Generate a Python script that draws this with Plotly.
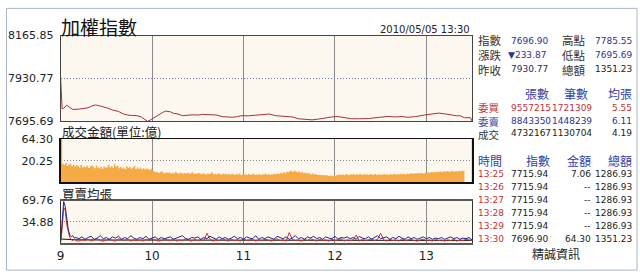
import plotly.graph_objects as go

# ---------------- data ----------------
TITLE = "加權指數"
STAMP = "2010/05/05 13:30"
VOL_TITLE = "成交金額(單位:億)"
AVG_TITLE = "買賣均張"
SOURCE = "精誠資訊"

HOUR_TICKS = [0, 60, 120, 180, 240]
HOUR_LABELS = ["9", "10", "11", "12", "13"]

IDX_RANGE = [7695.69, 8165.85]
IDX_TICKS = [7695.69, 7930.77, 8165.85]
IDX_TICK_LABELS = ["7695.69", "7930.77", "8165.85"]

IDX_MIN = [0, 1, 2, 4, 6, 8, 12, 15, 18, 21, 23, 26, 28, 31, 34, 38, 41, 44, 47, 50,
           53, 56, 57, 59, 61, 64, 67, 69, 72, 74, 77, 80, 83, 87, 90, 93, 98, 102, 106, 110,
           113, 116, 119, 123, 126, 130, 134, 137, 141, 147, 152, 156, 160, 165, 169, 173, 178, 182, 186, 191,
           196, 202, 207, 211, 215, 219, 224, 228, 233, 239, 243, 248, 252, 256, 260, 262, 264, 265, 269, 270]
IDX_VAL = [7930.77, 7764, 7768, 7784, 7772, 7761, 7763, 7768, 7770, 7782, 7785.55, 7780, 7776, 7768, 7758, 7750, 7737, 7730, 7728, 7727,
           7720, 7702, 7695.69, 7704, 7714, 7732, 7745, 7752, 7748, 7740, 7736, 7727, 7730, 7732, 7730, 7734, 7732, 7731, 7722, 7720,
           7718, 7722, 7727, 7726, 7729, 7732, 7734, 7736, 7727, 7723, 7720, 7710, 7706, 7704, 7708, 7715, 7720, 7722, 7716, 7710,
           7710, 7711, 7716, 7720, 7723, 7720, 7722, 7718, 7722, 7731, 7737, 7741, 7737, 7731, 7726, 7727, 7720, 7715.94, 7715.94, 7696.90]

VOL_RANGE = [0, 40.5]
VOL_TICKS = [20.25, 40.5]
VOL_TICK_LABELS = ["20.25", "64.30"]
# per-minute traded amount, minute 1 (9:01) .. minute 265 (13:25)
VOL_AMT = [45.0,
           17.5, 16.2, 18.0, 15.4, 16.8, 17.2, 15.0, 16.5, 14.8, 16.0,
           15.2, 14.0, 16.4, 13.8, 15.0, 14.2, 15.6, 13.5, 14.8, 16.0,
           14.5, 13.2, 15.8, 14.0, 13.0, 14.6, 12.8, 15.0, 13.6, 14.2,
           16.5, 14.0, 15.2, 13.5, 17.0, 14.8, 15.6, 13.2, 14.4, 13.0,
           14.0, 12.6, 15.0, 13.4, 14.2, 12.8, 13.6, 15.2, 12.4, 13.8,
           12.5, 14.0, 12.0, 13.2, 11.8, 13.0, 12.2, 11.5, 12.8, 11.0,
           10.2, 9.5, 9.8, 8.8, 9.6, 10.4, 9.0, 8.6, 9.4, 8.8,
           9.2, 8.4, 9.0, 8.2, 9.6, 8.8, 8.0, 9.2, 8.6, 8.4,
           8.8, 8.2, 9.0, 8.0, 8.6, 9.4, 7.8, 8.4, 8.0, 8.8,
           8.2, 7.6, 8.6, 8.0, 7.4, 8.4, 7.8, 8.2, 9.2, 7.6,
           8.0, 7.4, 8.6, 7.8, 7.2, 8.2, 7.6, 8.0, 7.4, 7.8,
           7.2, 8.0, 7.6, 7.0, 7.8, 7.4, 8.2, 7.0, 7.6, 7.2,
           7.6, 7.0, 7.8, 7.2, 7.4, 8.0, 6.8, 7.6, 7.2, 7.8,
           7.0, 7.6, 7.4, 8.2, 7.2, 7.8, 7.0, 7.6, 7.4, 8.0,
           7.6, 8.4, 7.8, 9.0, 8.2, 9.6, 8.6, 10.0, 9.4, 10.4,
           10.8, 9.6, 11.2, 10.0, 9.4, 10.2, 9.0, 9.8, 8.6, 9.2,
           8.4, 8.8, 8.0, 7.6, 8.2, 7.4, 7.8, 7.0, 6.8, 7.2,
           6.6, 7.0, 6.4, 6.8, 6.2, 6.0, 6.6, 5.8, 6.4, 6.0,
           7.2, 6.8, 7.6, 7.0, 7.4, 6.6, 7.8, 7.2, 7.0, 7.6,
           7.4, 7.8, 7.0, 7.6, 7.2, 8.0, 7.4, 7.0, 7.8, 7.2,
           7.6, 7.0, 7.8, 7.4, 7.2, 7.8, 7.0, 7.6, 7.4, 7.2,
           7.4, 7.8, 7.2, 7.6, 7.0, 7.8, 7.4, 7.6, 8.0, 7.2,
           7.8, 7.4, 8.2, 7.6, 8.0, 7.4, 8.4, 7.8, 8.2, 8.6,
           8.0, 8.6, 8.2, 8.8, 8.4, 9.0, 8.6, 8.2, 9.2, 8.8,
           9.4, 9.0, 9.6, 9.2, 9.8, 9.4, 10.0, 9.6, 10.2, 9.8,
           10.4, 9.8, 10.6, 10.2, 10.0, 10.8, 10.4, 10.0, 10.6, 10.2,
           10.8, 10.4, 11.0, 10.6]
VOL_MIN = list(range(1, 1 + len(VOL_AMT)))
CLOSE_MIN = [270]
CLOSE_AMT = [64.30]

AVG_RANGE = [0, 69.76]
AVG_TICKS = [34.88, 69.76]
AVG_TICK_LABELS = ["34.88", "69.76"]
AVG_MIN = list(range(0, 11)) + list(range(12, 271, 2))
SELL_AVG = [3, 30, 68, 60, 38, 22, 13, 10, 12, 8, 9,
            7, 10, 6, 9, 11, 6, 8, 12, 7, 9,
            6, 10, 8, 11, 6, 9, 7, 12, 8, 6,
            9, 7, 11, 6, 8, 10, 6, 9, 7, 8,
            10, 6, 8, 9, 12, 7, 6, 9, 8, 10,
            6, 9, 7, 11, 8, 6, 10, 7, 9, 6,
            8, 11, 7, 9, 6, 10, 8, 7, 12, 6,
            9, 7, 10, 8, 6, 11, 9, 7, 10, 6,
            8, 12, 7, 9, 6, 10, 8, 11, 7, 9,
            6, 10, 8, 7, 11, 6, 9, 8, 10, 7,
            9, 6, 11, 8, 7, 10, 6, 9, 12, 7,
            8, 10, 6, 9, 7, 11, 8, 6, 10, 7,
            9, 6, 8, 10, 7, 9, 6, 8, 7, 9,
            6, 8, 10, 7, 9, 6, 8, 7, 9, 5]
BUY_AVG = [2, 24, 58, 54, 30, 16, 9, 5, 4, 6, 4,
           3, 5, 4, 6, 3, 5, 7, 4, 3, 5,
           6, 4, 3, 7, 5, 4, 6, 3, 5, 4,
           5, 3, 6, 4, 7, 5, 3, 4, 6, 5,
           4, 6, 3, 5, 4, 7, 5, 3, 6, 4,
           5, 4, 16, 6, 3, 5, 4, 7, 5, 3,
           6, 4, 5, 3, 7, 4, 5, 6, 3, 5,
           4, 6, 5, 3, 5, 7, 4, 5, 3, 17,
           6, 4, 5, 3, 6, 4, 7, 5, 3, 6,
           4, 5, 3, 6, 4, 5, 7, 3, 5, 4,
           5, 13, 3, 6, 4, 5, 7, 4, 6, 16,
           5, 3, 6, 4, 5, 3, 7, 4, 5, 6,
           4, 3, 5, 6, 4, 5, 3, 6, 4, 5,
           3, 5, 4, 6, 3, 5, 4, 6, 5, 4]
DEAL_MIN = [0, 3, 10, 30, 60, 90, 120, 150, 180, 210, 240, 270]
DEAL_AVG = [6.5, 5.8, 5.2, 4.8, 4.6, 4.5, 4.4, 4.35, 4.3, 4.25, 4.22, 4.19]

# right-hand quote panel
SUM_LABELS_L = ["指數", "漲跌", "昨收"]
SUM_LABELS_R = ["高點", "低點", "總額"]
Q_INDEX = "7696.90"
Q_CHANGE = "233.87"
Q_PREV = "7930.77"
Q_HIGH = "7785.55"
Q_LOW = "7695.69"
Q_TOTAL = "1351.23"
ORDER_HEAD = ["張數", "筆數", "均張"]
ORDER_LABELS = ["委買", "委賣", "成交"]
ORDER_SHARES = ["9557215", "8843350", "4732167"]
ORDER_COUNT = ["1721309", "1448239", "1130704"]
ORDER_AVG = ["5.55", "6.11", "4.19"]
TICK_HEAD = ["時間", "指數", "金額", "總額"]
TICK_TIME = ["13:25", "13:26", "13:27", "13:28", "13:29", "13:30"]
TICK_INDEX = ["7715.94", "7715.94", "7715.94", "7715.94", "7715.94", "7696.90"]
TICK_AMT = ["7.06", "--", "--", "--", "--", "64.30"]
TICK_TOTAL = ["1286.93", "1286.93", "1286.93", "1286.93", "1286.93", "1351.23"]

# ---------------- layout helpers ----------------
W, H = 640, 280
def px(x):
    return x / W
def py(y):
    return 1 - y / H

X0, X1 = 57, 471
P1 = (31, 121)
P2 = (139.5, 185)
P3 = (204, 248.5)

CJK = "Noto Sans CJK TC"
NUM = "DejaVu Sans"
BG = "#fcf8f0"
CJK_SIZE = 12
NUM_SIZE = 9

fig = go.Figure()

# panel 1: index
fig.add_trace(go.Scatter(x=IDX_MIN, y=IDX_VAL, mode="lines",
                         line=dict(color="#a8303c", width=1), xaxis="x", yaxis="y",
                         hoverinfo="skip"))
# panel 2: amount
vx = [m - 1 for m in VOL_MIN] + [VOL_MIN[-1]]
vy = VOL_AMT + [VOL_AMT[-1]]
fig.add_trace(go.Scatter(x=vx, y=vy, mode="lines", line=dict(width=0, shape="hv", color="#f5aa45"),
                         fill="tozeroy", fillcolor="#f5aa45", xaxis="x2", yaxis="y2",
                         hoverinfo="skip"))
fig.add_trace(go.Bar(x=CLOSE_MIN, y=CLOSE_AMT, width=1, offset=-1,
                     marker=dict(color="#fbd9a8", line=dict(width=0)),
                     xaxis="x2", yaxis="y2", hoverinfo="skip"))
# panel 3: average lots
fig.add_trace(go.Scatter(x=DEAL_MIN, y=DEAL_AVG, mode="lines",
                         line=dict(color="#111111", width=1), xaxis="x3", yaxis="y3", hoverinfo="skip"))
fig.add_trace(go.Scatter(x=AVG_MIN, y=BUY_AVG, mode="lines",
                         line=dict(color="#cc3333", width=1), xaxis="x3", yaxis="y3", hoverinfo="skip"))
fig.add_trace(go.Scatter(x=AVG_MIN, y=SELL_AVG, mode="lines",
                         line=dict(color="#22228f", width=1), xaxis="x3", yaxis="y3", hoverinfo="skip"))

def xaxis(anchor, labels, linecolor, linewidth):
    return dict(domain=[px(X0), px(X1)], range=[0, 270], anchor=anchor,
                tickvals=HOUR_TICKS, ticktext=HOUR_LABELS, showticklabels=labels,
                showgrid=True, gridcolor="#8a8a8a", gridwidth=1, zeroline=False,
                showline=True, mirror=True, linecolor=linecolor, linewidth=linewidth,
                ticks="", ticklabelstandoff=1,
                tickfont=dict(family=NUM, size=12, color="#222222"), fixedrange=True)

def yaxis(anchor, dom, rng, tv, tt, gridcolor, linecolor, linewidth):
    return dict(domain=[py(dom[1]), py(dom[0])], range=rng, anchor=anchor,
                tickvals=tv, ticktext=tt, showgrid=True, gridcolor=gridcolor,
                griddash="1px,2px", gridwidth=1, zeroline=False,
                showline=True, mirror=True, linecolor=linecolor, linewidth=linewidth,
                ticks="", ticklabelstandoff=4,
                tickfont=dict(family=NUM, size=11, color="#222222"), fixedrange=True)

fig.update_layout(
    width=W, height=H, autosize=False, margin=dict(l=0, r=0, t=0, b=0, pad=0),
    paper_bgcolor="white", plot_bgcolor=BG, showlegend=False, bargap=0,
    xaxis=xaxis("y", False, "#444444", 1),
    yaxis=yaxis("x", P1, IDX_RANGE, IDX_TICKS, IDX_TICK_LABELS, "#6a78a8", "#444444", 1),
    xaxis2=xaxis("y2", False, "#111111", 1.5),
    yaxis2=yaxis("x2", P2, VOL_RANGE, VOL_TICKS, VOL_TICK_LABELS, "#888888", "#111111", 1.5),
    xaxis3=xaxis("y3", True, "#5a5a5a", 2),
    yaxis3=yaxis("x3", P3, AVG_RANGE, AVG_TICKS, AVG_TICK_LABELS, "#888888", "#333333", 1),
)

ann = []
def txt(x, y, s, color="#222222", size=NUM_SIZE, anchor="left", family=NUM):
    ann.append(dict(x=px(x), y=py(y), xref="paper", yref="paper", text=s, showarrow=False,
                    xanchor=anchor, yanchor="middle", align=anchor,
                    borderpad=0, font=dict(family=family, size=size, color=color)))

def col(lines, colors):
    return "<br>".join(f"<span style='color:{c}'>{t}</span>" for t, c in zip(lines, colors))

# titles
txt(56, 21.5, TITLE, "#111111", 19, "left", CJK)
txt(470, 25, STAMP, "#222222", 10, "right", NUM)
txt(57, 132, VOL_TITLE, "#222222", 12.5, "left", CJK)
txt(57, 196.5, AVG_TITLE, "#222222", 12.5, "left", CJK)

LBL = "#333333"
NAVY = "#2e3390"
RED = "#c0333a"
HEAD = "#3440a8"

# summary block (labels as stacked columns, 11.5px -> ~15px line pitch)
rows = [36.5, 51.5, 66.0]
txt(476, rows[1], col(SUM_LABELS_L, [LBL] * 3), LBL, 11.5, "left", CJK)
txt(561, rows[1], col(SUM_LABELS_R, [LBL] * 3), LBL, 11.5, "left", CJK)
txt(509, rows[0], Q_INDEX, NAVY)
txt(633, rows[0], Q_HIGH, NAVY, NUM_SIZE, "right")
txt(506, rows[1], "▼" + Q_CHANGE, NAVY)
txt(633, rows[1], Q_LOW, NAVY, NUM_SIZE, "right")
txt(509, rows[2], Q_PREV, "#2a2a60")
txt(633, rows[2], Q_TOTAL, "#222222", NUM_SIZE, "right")

# order block
txt(549, 91.5, ORDER_HEAD[0], HEAD, CJK_SIZE, "right", CJK)
txt(589, 91.5, ORDER_HEAD[1], HEAD, CJK_SIZE, "right", CJK)
txt(633, 91.5, ORDER_HEAD[2], HEAD, CJK_SIZE, "right", CJK)
ocols = [(RED, RED), ("#3a48a8", NAVY), ("#333333", "#222222")]
orows = [107, 120.3, 133.5]
txt(476, orows[1], col(ORDER_LABELS, [c[0] for c in ocols]), LBL, 10.5, "left", CJK)
for i, yv in enumerate(orows):
    nc = ocols[i][1]
    txt(509, yv, ORDER_SHARES[i], nc)
    txt(550.5, yv, ORDER_COUNT[i], nc)
    txt(633, yv, ORDER_AVG[i], nc, NUM_SIZE, "right")

# tick block
txt(476, 162.3, TICK_HEAD[0], HEAD, CJK_SIZE, "left", CJK)
txt(550, 162.3, TICK_HEAD[1], HEAD, CJK_SIZE, "right", CJK)
txt(592, 162.3, TICK_HEAD[2], HEAD, CJK_SIZE, "right", CJK)
txt(633, 162.3, TICK_HEAD[3], HEAD, CJK_SIZE, "right", CJK)
for i in range(len(TICK_TIME)):
    yv = 176 + i * 13.7
    txt(476, yv, TICK_TIME[i], RED)
    txt(509, yv, TICK_INDEX[i], "#222222")
    txt(592, yv, TICK_AMT[i], "#222222", NUM_SIZE, "right")
    txt(632.5, yv, TICK_TOTAL[i], "#222222", NUM_SIZE, "right")

txt(555, 260, SOURCE, "#222222", CJK_SIZE, "center", CJK)

fig.update_layout(annotations=ann)

# outer frame
fig.add_shape(type="rect", xref="paper", yref="paper", x0=px(2.5), x1=px(637), y0=py(277), y1=py(2.5),
              line=dict(color="#aab6c6", width=1), fillcolor="rgba(0,0,0,0)", layer="below")

fig.write_html("out.html", config={"displayModeBar": False, "staticPlot": True})
